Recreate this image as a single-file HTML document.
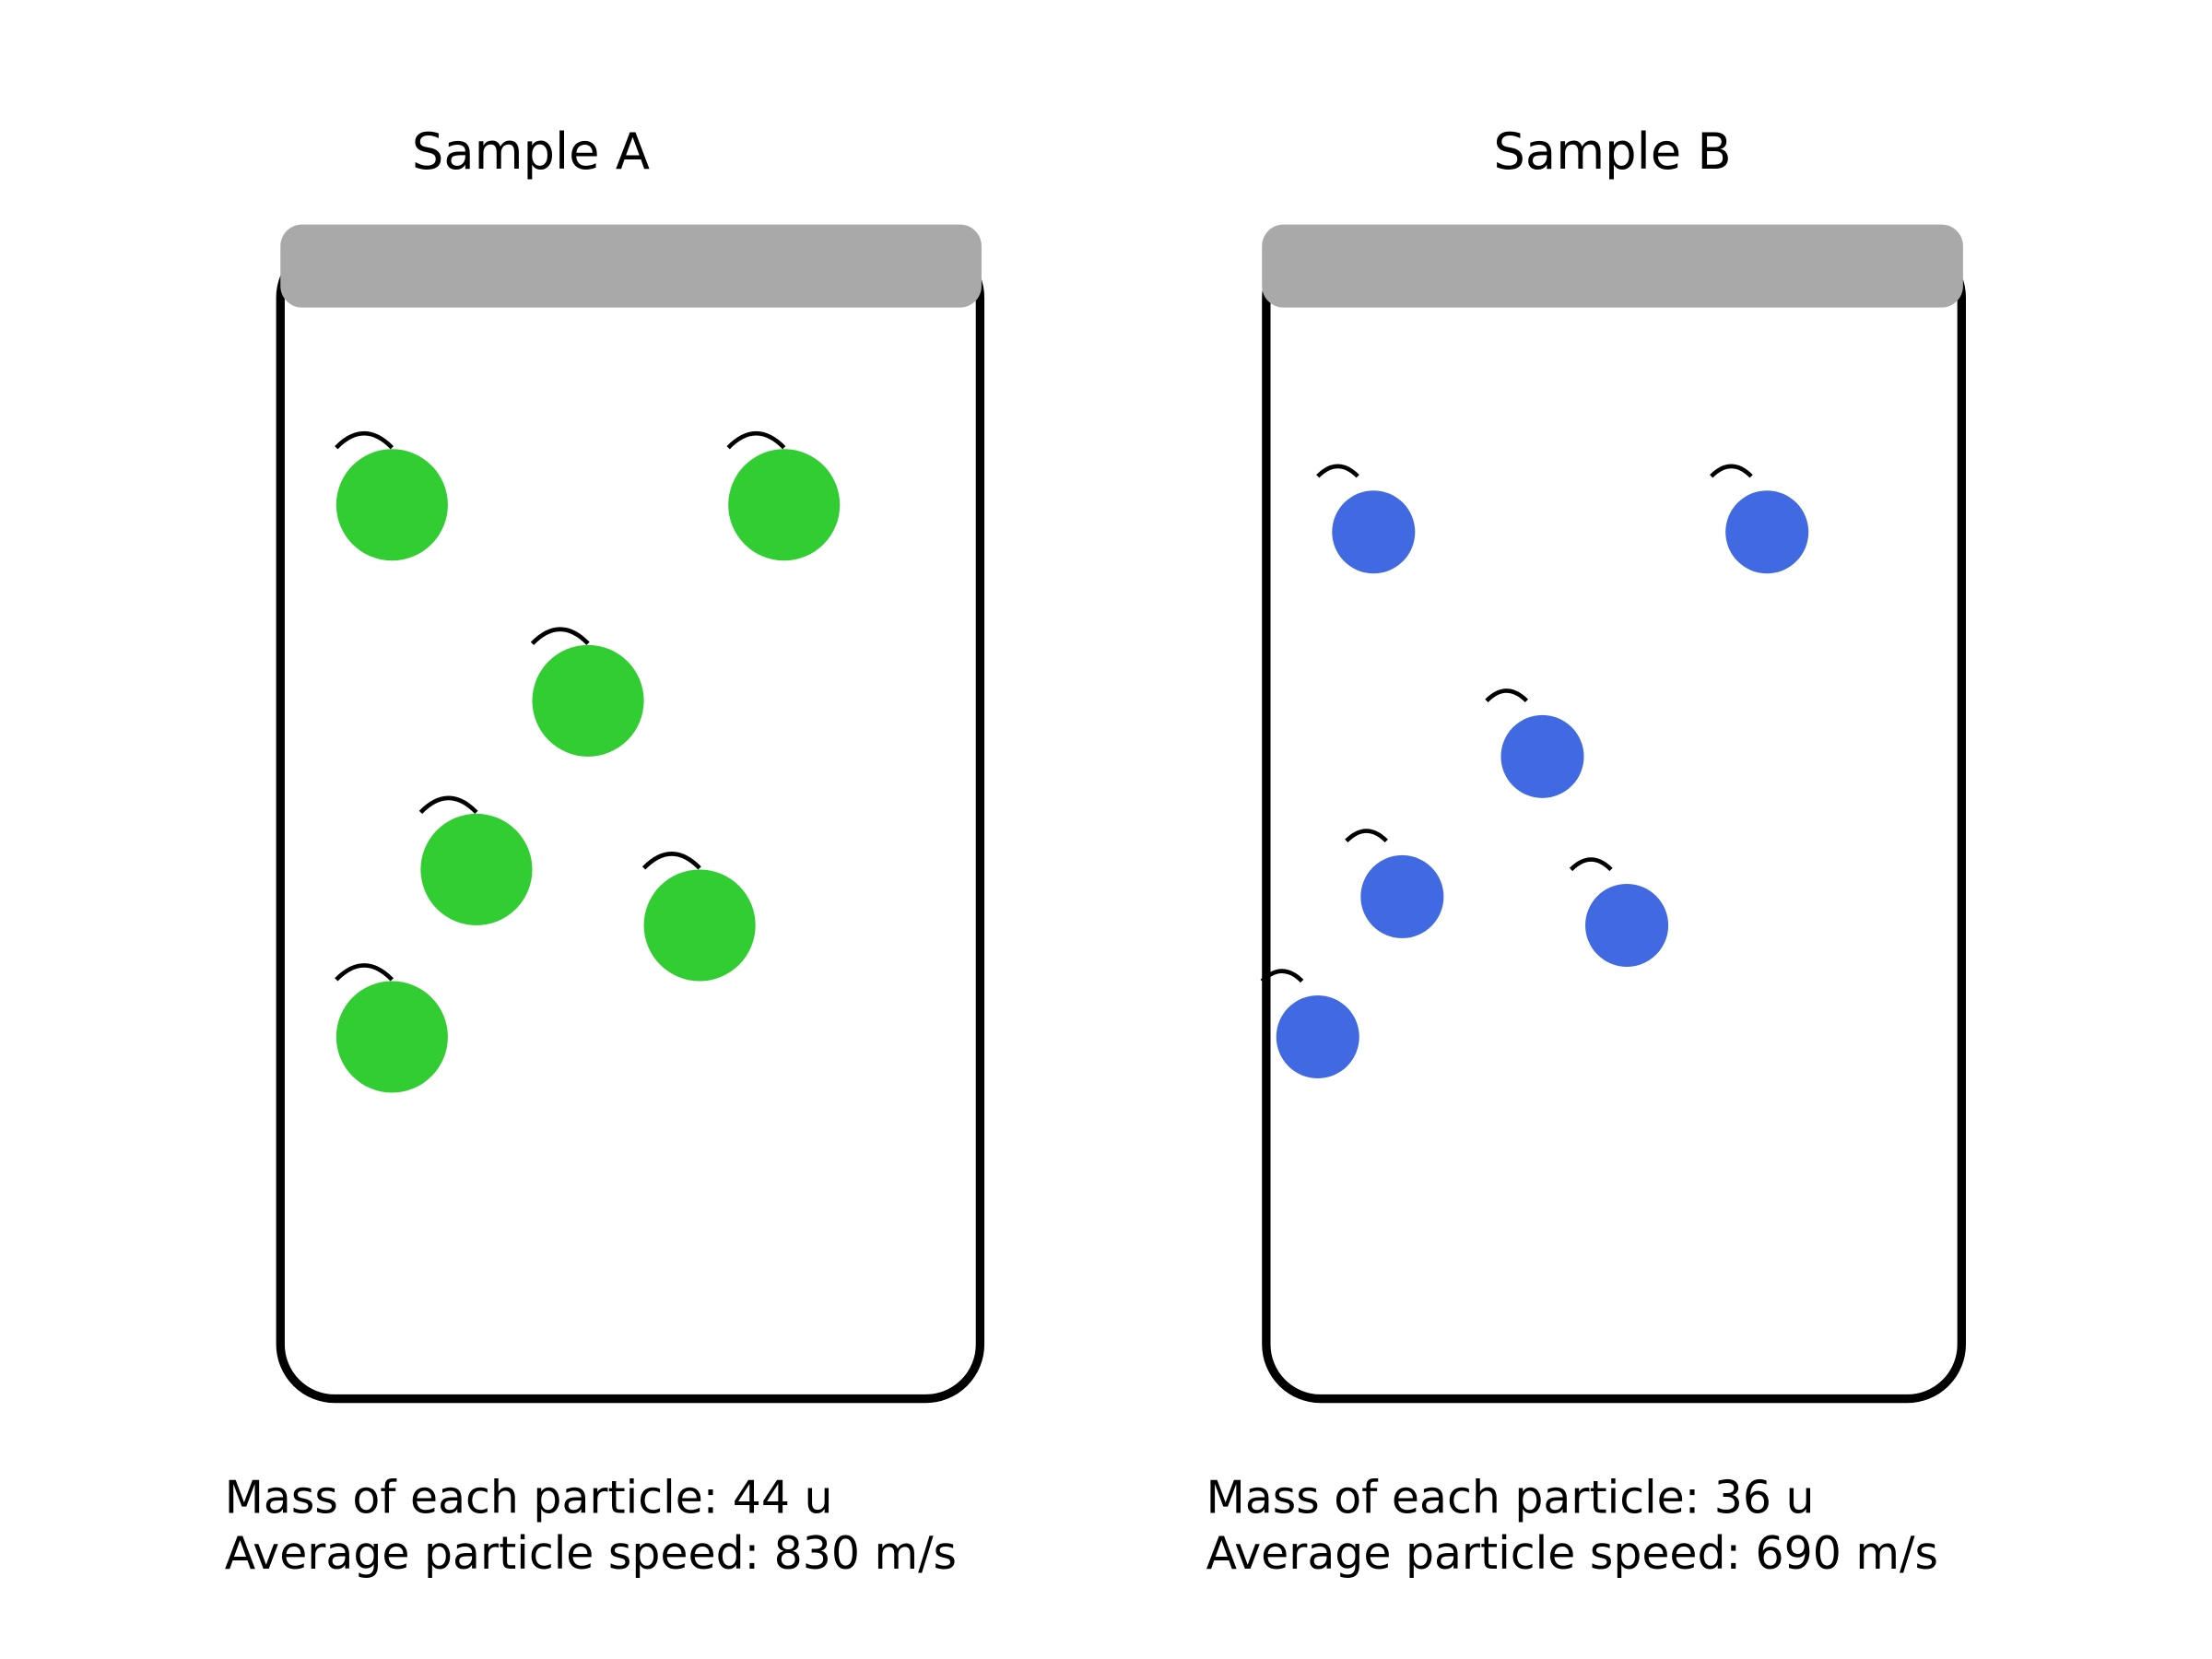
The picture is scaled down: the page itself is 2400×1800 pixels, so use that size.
<!DOCTYPE html>
<html><head><meta charset="utf-8"><style>
html,body{margin:0;padding:0;background:#fff;}
svg{display:block;}
text{font-family:"DejaVu Sans","Liberation Sans",sans-serif;fill:#000;}
</style></head><body>
<svg id="chart" width="2400" height="1800" viewBox="0 0 1546 1160" preserveAspectRatio="none">
<text x="371" y="118" font-size="35" text-anchor="middle">Sample A</text>
<text x="1127" y="118" font-size="35" text-anchor="middle">Sample B</text>
<rect x="196" y="170" width="489" height="808" rx="38" fill="none" stroke="#000" stroke-width="6"/>
<rect x="196" y="157" width="490" height="58" rx="15" fill="#a9a9a9"/>
<rect x="885" y="170" width="486" height="808" rx="38" fill="none" stroke="#000" stroke-width="6"/>
<rect x="882" y="157" width="490" height="58" rx="15" fill="#a9a9a9"/>
<g id="particles"></g>
<text x="157" y="1058" font-size="31.5">Mass of each particle: 44 u</text>
<text x="157" y="1097" font-size="31.5">Average particle speed: 830 m/s</text>
<text x="843" y="1058" font-size="31.5">Mass of each particle: 36 u</text>
<text x="843" y="1097" font-size="31.5">Average particle speed: 690 m/s</text>
</svg>
<script>
const aX = [274, 548, 411, 333, 489, 274];
const aY = [353, 353, 490, 608, 647, 725];
const bX = [960, 1235, 1078, 980, 1137, 921];
const bY = [372, 372, 529, 627, 647, 725];
const NS = 'http://www.w3.org/2000/svg';
const g = document.getElementById('particles');
function draw(xs, ys, r, color, arcW, arcH, arcOff, name) {
  for (let i = 0; i < xs.length; i++) {
    const cx = xs[i], cy = ys[i];
    const c = document.createElementNS(NS, 'circle');
    c.setAttribute('cx', cx); c.setAttribute('cy', cy); c.setAttribute('r', r);
    c.setAttribute('fill', color);
    
    
    g.appendChild(c);
    const x1 = cx - arcOff, x2 = x1 + arcW, ye = cy - r - (name === 'a' ? 1 : 10);
    const p = document.createElementNS(NS, 'path');
    p.setAttribute('d', `M${x1},${ye} Q${(x1 + x2) / 2},${ye - arcH * 2} ${x2},${ye}`);
    p.setAttribute('fill', 'none'); p.setAttribute('stroke', '#000'); p.setAttribute('stroke-width', '3');
    
    
    g.appendChild(p);
  }
}
draw(aX, aY, 39, '#32cd32', 39, 10, 39, 'a');
draw(bX, bY, 29, '#4169e1', 28, 7, 39, 'b');
</script>
</body></html>
